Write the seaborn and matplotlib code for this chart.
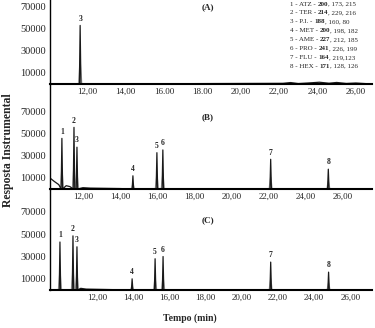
import matplotlib
matplotlib.use('Agg')
import pandas as pd
import matplotlib.pyplot as plt
import seaborn as sns

# peak numbers, retention times (min) and heights
ids_a = ['3']
rt_a = [11.64]
h_a = [53000]

ids_b = ['1', '2', '3', '4', '5', '6', '7', '8']
rt_b = [10.87, 11.52, 11.68, 14.69, 15.98, 16.30, 22.1, 25.2]
h_b = [46000, 56000, 38000, 12000, 33000, 35500, 27000, 18000]

ids_c = ['1', '2', '3', '4', '5', '6', '7', '8']
rt_c = [9.95, 10.67, 10.89, 13.94, 15.21, 15.65, 21.6, 24.8]
h_c = [43000, 48500, 38700, 10000, 28000, 30000, 25000, 16000]

# baseline drift / noise
base_a_t = [22.2, 22.6, 23.0, 23.5, 24.1, 24.6, 25.0, 25.5, 26.0]
base_a_v = [600, 1300, 400, 900, 1600, 700, 1400, 500, 900]
base_b_t = [10.23, 10.45, 10.7, 11.1, 11.3, 12.0, 12.4, 13.2, 14.0]
base_b_v = [10000, 7000, 4000, 3000, 2200, 1200, 800, 600, 400]
base_c_t = [11.1, 11.4]
base_c_v = [1500, 800]

xlim_a = (10.07, 26.84)
xlim_b = (10.23, 27.55)
xlim_c = (9.40, 27.2)

xticks = [12, 14, 16, 18, 20, 22, 24, 26]
xlabels_a = ['12,00', '14,00', '16.00', '18.00', '20,00', '22,00', '24,00', '26,00']
xlabels_b = ['12,00', '14,00', '16,00', '18,00', '20,00', '22,00', '24,00', '26,00']
xlabels_c = ['12,00', '14,00', '16,00', '18,00', '20,00', '22,00', '24,00', '26,00']
yticks = [10000, 30000, 50000, 70000]

legend_lines = [
    ('1 - ATZ - ', '200', ', 173, 215'),
    ('2 - TER - ', '214', ', 229, 216'),
    ('3 - P.I. - ', '188', ', 160, 80'),
    ('4 - MET - ', '200', ', 198, 182'),
    ('5 - AME - ', '227', ', 212, 185'),
    ('6 - PRO - ', '241', ', 226, 199'),
    ('7 - FLU - ', '164', ', 219,123'),
    ('8 - HEX - ', '171', ', 128, 126'),
]

sns.set_theme(style='white')
plt.rcParams['font.family'] = ['Liberation Serif', 'DejaVu Serif']


def trace(rt, h, bt, bv, lim, w):
    t = [lim[0], lim[1]] + list(bt)
    v = [0, 0] + list(bv)
    for r, y in zip(rt, h):
        t += [r - w, r, r + w]
        v += [0, y, 0]
    return pd.DataFrame({'t': t, 'v': v}).sort_values('t')


fig = plt.figure(figsize=(3.75, 3.28), dpi=100)
W, H = 375, 328
L, R = 50, 372


def make_ax(top, bottom):
    return fig.add_axes([L / W, 1 - bottom / H, (R - L) / W, (bottom - top) / H])


panels = [
    (make_ax(0, 84), ids_a, rt_a, h_a, base_a_t, base_a_v, xlim_a, xlabels_a, 76000, '(A)', 0.917),
    (make_ax(85, 189), ids_b, rt_b, h_b, base_b_t, base_b_v, xlim_b, xlabels_b, 94500, '(B)', 0.69),
    (make_ax(189, 290), ids_c, rt_c, h_c, base_c_t, base_c_v, xlim_c, xlabels_c, 90500, '(C)', 0.69),
]

for ax, ids, rt, h, bt, bv, lim, xl, ytop, tag, tag_y in panels:
    # light grey companion trace + dark main trace
    grey = trace(rt, [0.4 * v for v in h], [], [], lim, 0.09)
    sns.lineplot(data=grey, x='t', y='v', ax=ax, color='#b5b5b5', lw=0.9,
                 estimator=None, sort=False)
    df = trace(rt, h, bt, bv, lim, 0.04)
    sns.lineplot(data=df, x='t', y='v', ax=ax, color='#1a1a1a', lw=0.9,
                 estimator=None, sort=False)
    for i, r, y in zip(ids, rt, h):
        ax.text(r, y + 2500, i, ha='center', va='bottom', fontsize=5.5,
                fontweight='bold')
    ax.set_xlim(lim)
    ax.set_ylim(0, ytop)
    ax.set_xticks(xticks)
    ax.set_xticklabels(xl)
    ax.set_yticks(yticks)
    ax.set_yticklabels([str(v) for v in yticks])
    ax.tick_params(axis='x', length=0, pad=3, labelsize=6.5)
    ax.tick_params(axis='y', length=0, pad=3, labelsize=7.5)
    ax.set_xlabel('')
    ax.set_ylabel('')
    ax.patch.set_alpha(0)
    for s in ['top', 'right']:
        ax.spines[s].set_visible(False)
    ax.spines['left'].set_color('black')
    ax.spines['left'].set_linewidth(1.0)
    ax.spines['bottom'].set_color('black')
    ax.spines['bottom'].set_linewidth(1.5)
    ax.text(0.472, tag_y, tag, transform=ax.transAxes, fontsize=6.5,
            fontweight='bold', ha='left', va='center')

# ion legend in panel A, with the quantification ion in bold
ax_a = panels[0][0]
for k, (a, b, c) in enumerate(legend_lines):
    y = 1 - (4 + 8.9 * k) / 84
    t1 = ax_a.text(0.745, y, a, transform=ax_a.transAxes, fontsize=5,
                   ha='left', va='center')
    t2 = ax_a.annotate(b, xy=(1, 0), xycoords=t1, fontsize=5,
                       fontweight='bold', ha='left', va='bottom')
    ax_a.annotate(c, xy=(1, 0), xycoords=t2, fontsize=5, ha='left', va='bottom')

fig.text(8 / W, 1 - 150 / H, 'Resposta Instrumental', rotation=90,
         ha='center', va='center', fontsize=8.5, fontweight='bold')
fig.text(190 / W, 1 - 318 / H, 'Tempo (min)', ha='center', va='center',
         fontsize=7, fontweight='bold')

fig.savefig('out.png', dpi=100)
